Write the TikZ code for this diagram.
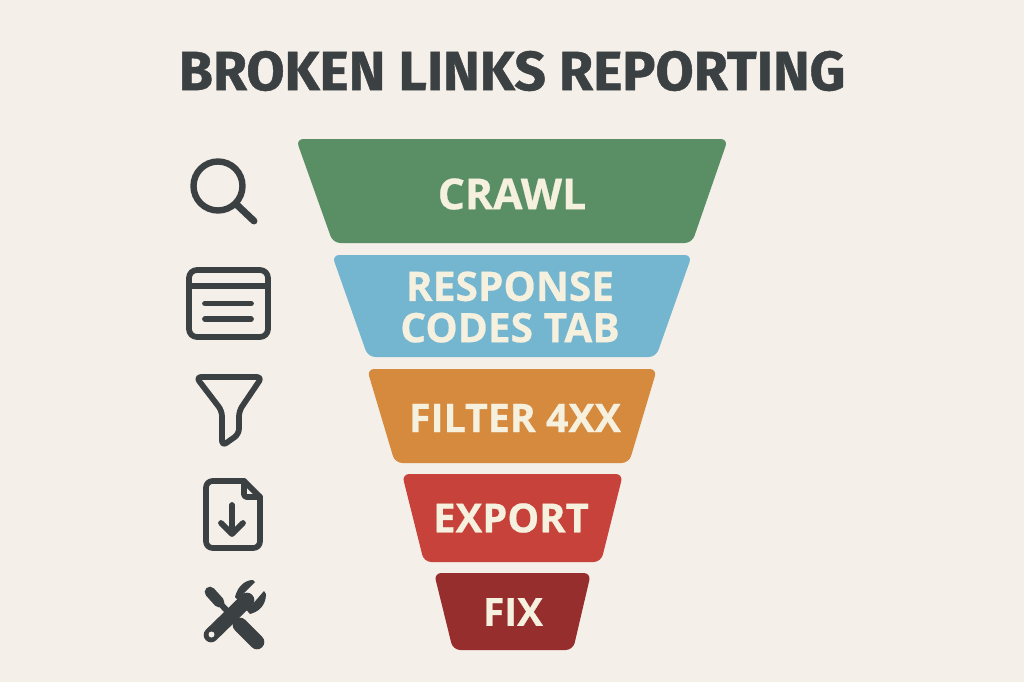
\documentclass[tikz,border=0pt]{standalone}
\usepackage{fontspec}
\setmainfont{Open Sans}[BoldFeatures={FakeBold=0.6}]
\newfontfamily\titlefont{Fira Sans}[BoldFeatures={FakeBold=0.8}]
\definecolor{bgc}{HTML}{F4EFE8}
\definecolor{ink}{HTML}{3B4043}
\definecolor{cream}{HTML}{F6F1DF}
\definecolor{cgreen}{HTML}{5A8F66}
\definecolor{cblue}{HTML}{74B5CF}
\definecolor{corange}{HTML}{D58A3E}
\definecolor{cred}{HTML}{C6423A}
\definecolor{cdark}{HTML}{962E2E}
\tikzset{
  x=0.75pt,y=-0.75pt,
  band/.style={rounded corners=5.5pt},
  lab/.style={text=cream,align=center},
  icon/.style={draw=ink,line width=4.3pt,line cap=round,line join=round,fill=none},
}
\newcommand{\fsz}[1]{\bfseries\fontsize{#1}{31}\selectfont}
\begin{document}
\begin{tikzpicture}
\useasboundingbox (0,0) rectangle (1024,682);
\fill[bgc] (0,0) rectangle (1024,682);
\node[text=ink,font=\titlefont\fsz{41.5}] (title) at (512,71) {BROKEN LINKS REPORTING};
\fill[band,cgreen] (296,139) -- (728,139) -- (692,243) -- (333,243) -- cycle;
\fill[band,cblue] (332,255) -- (692,255) -- (656,357) -- (368,357) -- cycle;
\fill[band,corange] (367,369) -- (657,369) -- (629,463) -- (395,463) -- cycle;
\fill[band,cred] (402,474) -- (623,474) -- (601,562) -- (424,562) -- cycle;
\fill[band,cdark] (434,573) -- (591,573) -- (573,650) -- (453,650) -- cycle;
\node[lab,font=\fsz{32}] (crawl) at (512,194) {CRAWL};
\node[lab,font=\fsz{30.5}] (codes) at (510,307) {RESPONSE\\CODES TAB};
\node[lab,font=\fsz{29.5}] (filter) at (515,418) {FILTER 4XX};
\node[lab,font=\fsz{30}] (export) at (511,518) {EXPORT};
\node[lab,font=\fsz{29}] (fix) at (513,612) {FIX};
% magnifier
\draw[icon,line width=4.8pt] (218,186) circle (24.5);
\draw[icon,line width=5.2pt] (236,204) -- (254,221);
% window
\draw[icon,rounded corners=6pt] (189,270) rectangle (268,337);
\draw[icon] (189,286) -- (268,286);
\draw[icon] (205,303.5) -- (251,303.5);
\draw[icon] (205,319) -- (251,319);
% filter
\draw[icon,rounded corners=4pt] (196,377) -- (262,377) -- (239,411) -- (239,434) -- (222,446) -- (222,411) -- cycle;
% file
\draw[icon,rounded corners=5pt] (244,481) -- (206,481) -- (206,548) -- (260,548) -- (260,497);
\draw[icon,line join=round] (244,481) -- (260,497);
\draw[icon,rounded corners=2pt] (244,481) -- (244,497) -- (260,497);
\draw[icon] (232,505) -- (232,533);
\draw[icon] (221,523) -- (232,534) -- (243,523);
% tools
\draw[ink,line width=8pt,line cap=round] (210,592) -- (219,602);
\draw[ink,line width=4.5pt] (215,598) -- (232,616);
\draw[ink,line width=11pt,line cap=round] (240,625) -- (257,642);
\draw[bgc,line width=2pt] (222,626) -- (240,608);
\draw[ink,line width=11pt,line cap=round] (211,635) -- (247,600);
\fill[ink] (235,597) .. controls (238,585) and (246,580) .. (253,580) -- (255,582) -- (243,594) -- (251,606) -- (264,591) -- (266,594) .. controls (266,606) and (258,612) .. (250,614) -- cycle;
\fill[bgc] (211.5,634.5) circle (3);
\end{tikzpicture}
\end{document}
